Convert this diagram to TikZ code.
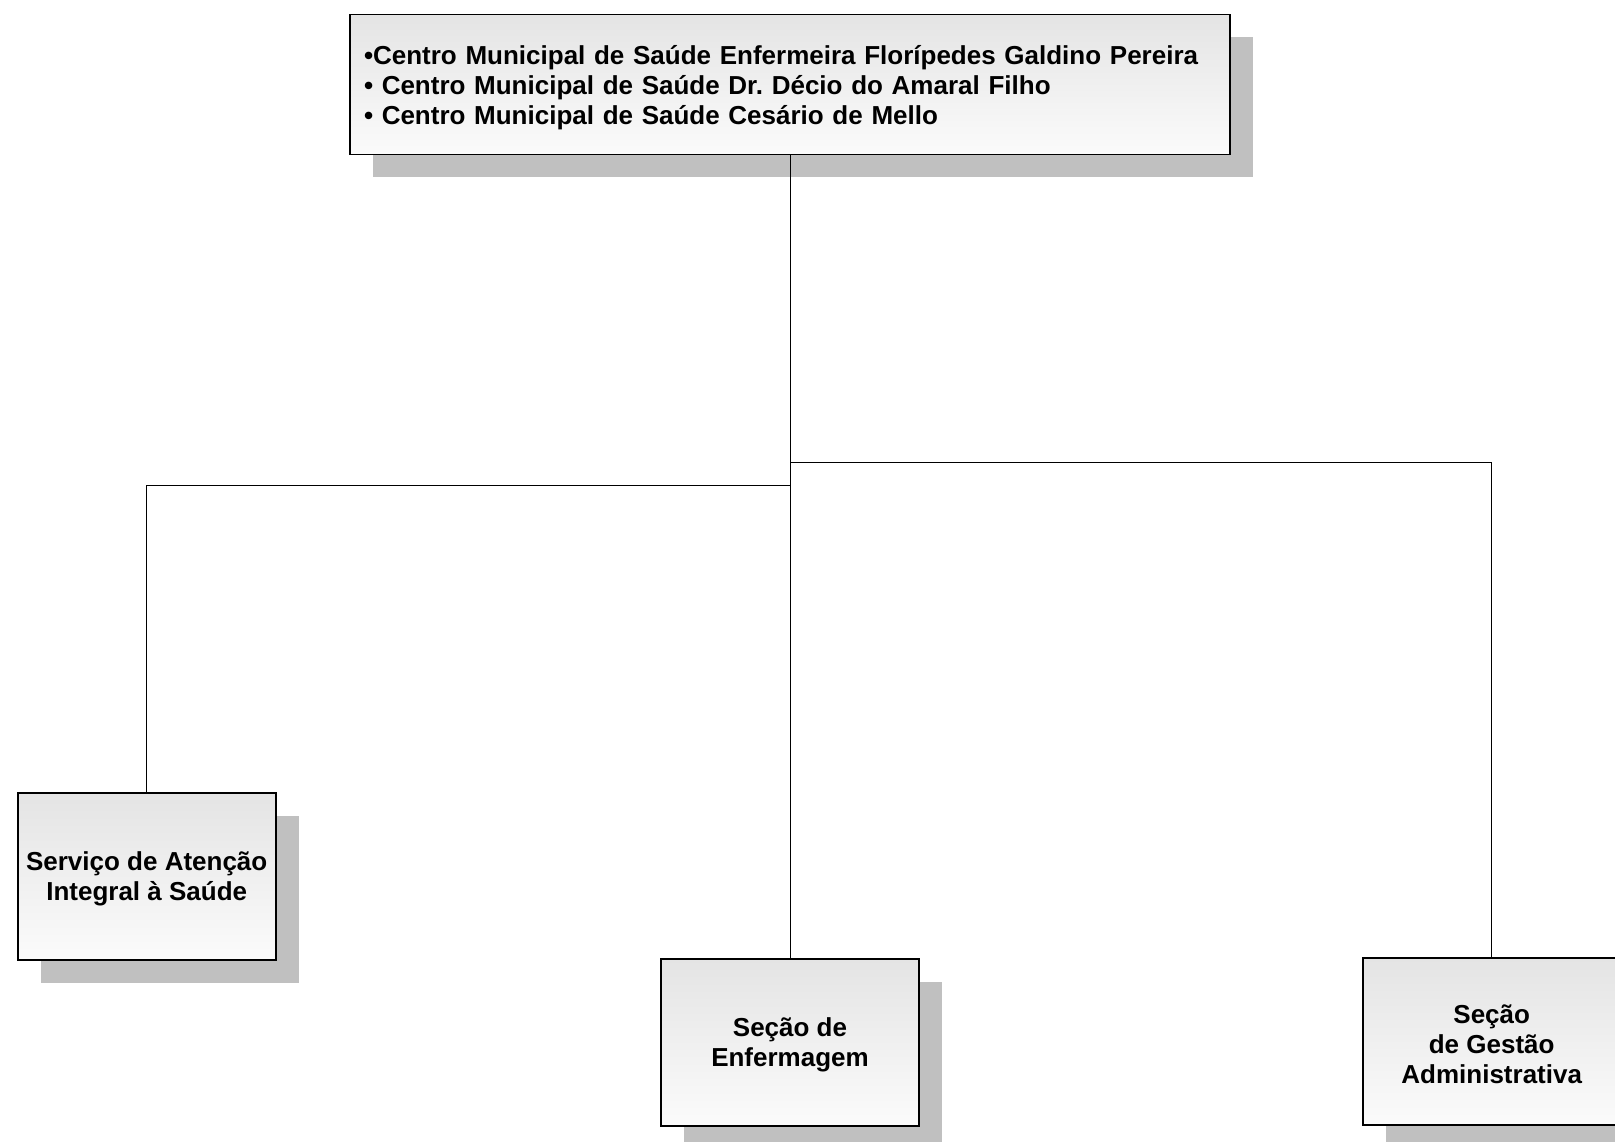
\documentclass[tikz,border=0pt]{standalone}
\usepackage{fontspec}
\setmainfont{Liberation Sans}
\usetikzlibrary{shadows}
\definecolor{shadowgray}{RGB}{192,192,192}
\definecolor{boxtop}{RGB}{228,228,228}
\definecolor{boxbot}{RGB}{251,251,251}
\newcommand{\lowln}[1]{\raisebox{-3pt}[\height][\depth]{#1}}
\frenchspacing
\begin{document}
\begin{tikzpicture}[x=1pt,y=1pt,
  orgbox/.style={draw=black, line width=1.6pt, top color=boxtop, bottom color=boxbot,
    drop shadow={shadow xshift=23pt, shadow yshift=-23pt, fill=shadowgray, opacity=1},
    inner sep=0pt, font=\fontsize{26}{30}\selectfont\bfseries, align=center},
  smallbox/.style={orgbox, minimum width=258pt, minimum height=167pt},
  link/.style={draw=black, line width=0.9pt}]
\useasboundingbox (0,0) rectangle (1615,-1141);
\node[orgbox, minimum width=880pt, minimum height=140pt, text width=852pt, inner xsep=14pt, align=left] (top) at (790,-84.3)
  {\lowln{•Centro Municipal de Saúde Enfermeira Florípedes Galdino Pereira}\\
   \lowln{• Centro Municipal de Saúde Dr. Décio do Amaral Filho}\\
   \lowln{• Centro Municipal de Saúde Cesário de Mello}};
\node[smallbox] (left) at (146.7,-876.3) {\lowln{Serviço de Atenção}\\\lowln{Integral à Saúde}};
\node[smallbox] (mid) at (790,-1042.3) {\lowln{Seção de}\\\lowln{Enfermagem}};
\node[smallbox] (right) at (1491.7,-1041.7) {\lowln{Seção}\\\lowln{de Gestão}\\\lowln{Administrativa}};
\coordinate (jr) at (790,-462.3);
\coordinate (jl) at (790,-485);
\draw[link] (top.south) -- (mid.north);
\draw[link] (jr) -| (right.north);
\draw[link] (jl) -| (left.north);
\end{tikzpicture}
\end{document}
